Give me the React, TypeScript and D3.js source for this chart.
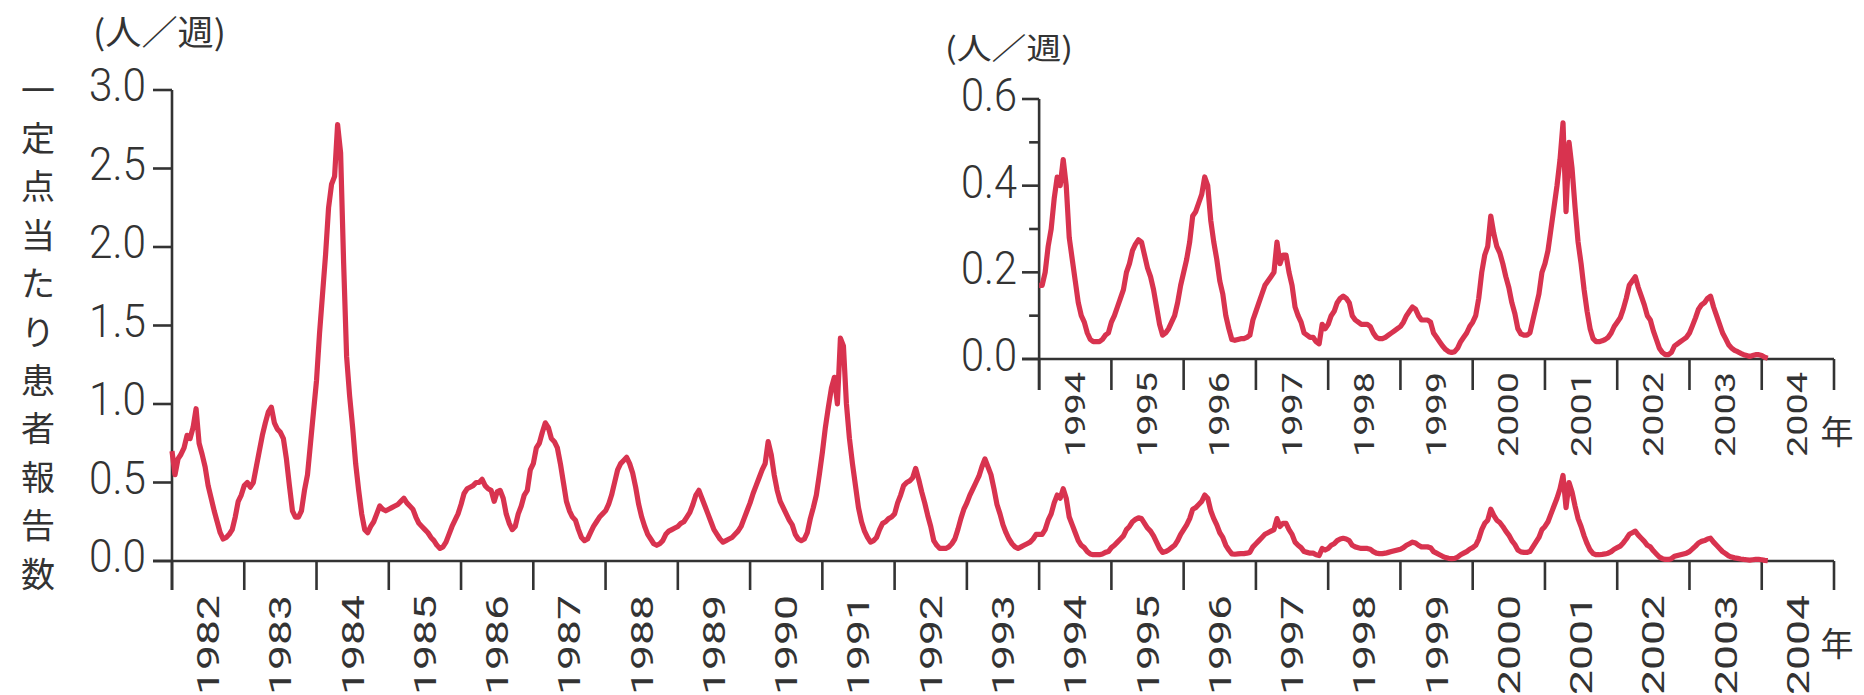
import React from 'react';
import * as d3 from 'd3';

// 定点当たり患者報告数 (人/週) at half-month steps (24 per year)
const ratesFrom1982 = [
  0.7, 0.55, 0.65, 0.68, 0.72, 0.8, 0.78, 0.85, 0.97, 0.75, 0.68, 0.6, 0.48, 0.4, 0.32, 0.25, 0.18, 0.14, 0.15, 0.17, 0.2, 0.28, 0.38, 0.42,
  0.48, 0.5, 0.47, 0.5, 0.6, 0.7, 0.8, 0.88, 0.95, 0.98, 0.88, 0.84, 0.82, 0.78, 0.65, 0.48, 0.32, 0.28, 0.28, 0.32, 0.45, 0.55, 0.75, 0.95,
  1.15, 1.45, 1.7, 1.95, 2.25, 2.4, 2.45, 2.78, 2.6, 1.9, 1.3, 1.05, 0.85, 0.62, 0.45, 0.3, 0.2, 0.18, 0.22, 0.25, 0.3, 0.35, 0.33, 0.32,
  0.33, 0.34, 0.35, 0.36, 0.38, 0.4, 0.37, 0.35, 0.33, 0.28, 0.24, 0.22, 0.2, 0.18, 0.15, 0.13, 0.1, 0.08, 0.09, 0.12, 0.17, 0.22, 0.26, 0.3,
  0.36, 0.43, 0.46, 0.47, 0.48, 0.5, 0.5, 0.52, 0.48, 0.46, 0.45, 0.38, 0.44, 0.45, 0.4, 0.3, 0.24, 0.2, 0.22, 0.3, 0.35, 0.42, 0.45, 0.58,
  0.62, 0.72, 0.75, 0.82, 0.88, 0.85, 0.78, 0.76, 0.72, 0.62, 0.5, 0.38, 0.32, 0.28, 0.26, 0.2, 0.15, 0.13, 0.14, 0.18, 0.22, 0.25, 0.28, 0.3,
];
const ratesFrom1988 = [
  0.32, 0.36, 0.42, 0.5, 0.58, 0.62, 0.64, 0.66, 0.62, 0.56, 0.47, 0.36, 0.28, 0.22, 0.17, 0.14, 0.11, 0.1, 0.11, 0.13, 0.17, 0.19, 0.2, 0.21,
  0.22, 0.24, 0.25, 0.28, 0.31, 0.36, 0.42, 0.45, 0.4, 0.35, 0.3, 0.25, 0.2, 0.17, 0.14, 0.12, 0.13, 0.14, 0.15, 0.17, 0.19, 0.22, 0.27, 0.32,
  0.37, 0.43, 0.48, 0.53, 0.58, 0.62, 0.76, 0.68, 0.55, 0.45, 0.38, 0.34, 0.3, 0.26, 0.23, 0.17, 0.14, 0.13, 0.14, 0.18, 0.27, 0.34, 0.42, 0.55,
  0.69, 0.85, 0.98, 1.1, 1.17, 1.0, 1.42, 1.37, 1.0, 0.78, 0.62, 0.48, 0.34, 0.25, 0.19, 0.15, 0.12, 0.13, 0.15, 0.2, 0.24, 0.25, 0.27, 0.28,
  0.3, 0.37, 0.42, 0.48, 0.5, 0.51, 0.53, 0.59, 0.52, 0.44, 0.37, 0.29, 0.22, 0.13, 0.1, 0.08, 0.08, 0.08, 0.09, 0.11, 0.14, 0.2, 0.27, 0.33,
  0.37, 0.42, 0.46, 0.5, 0.54, 0.6, 0.65, 0.6, 0.55, 0.46, 0.36, 0.3, 0.23, 0.18, 0.14, 0.11, 0.09, 0.08, 0.09, 0.1, 0.11, 0.12, 0.14, 0.17,
];
const ratesFrom1994 = [
  0.17, 0.17, 0.2, 0.26, 0.3, 0.37, 0.42, 0.4, 0.46, 0.4, 0.28, 0.23, 0.18, 0.13, 0.1, 0.085, 0.06, 0.045, 0.04, 0.04, 0.04, 0.045, 0.055, 0.06,
  0.085, 0.1, 0.12, 0.14, 0.16, 0.2, 0.22, 0.25, 0.265, 0.275, 0.27, 0.24, 0.21, 0.19, 0.16, 0.12, 0.08, 0.055, 0.06, 0.07, 0.085, 0.1, 0.13, 0.17,
  0.2, 0.23, 0.27, 0.33, 0.34, 0.36, 0.38, 0.42, 0.4, 0.32, 0.27, 0.23, 0.18, 0.15, 0.1, 0.07, 0.045, 0.043, 0.045, 0.047, 0.047, 0.05, 0.055, 0.09,
  0.11, 0.13, 0.15, 0.17, 0.18, 0.19, 0.2, 0.27, 0.22, 0.24, 0.24, 0.2, 0.17, 0.12, 0.1, 0.085, 0.06, 0.055, 0.05, 0.05, 0.04, 0.035, 0.08, 0.07,
  0.08, 0.1, 0.11, 0.13, 0.14, 0.145, 0.14, 0.13, 0.1, 0.09, 0.085, 0.08, 0.08, 0.08, 0.075, 0.06, 0.05, 0.047, 0.047, 0.05, 0.055, 0.06, 0.065, 0.07,
  0.075, 0.085, 0.1, 0.11, 0.12, 0.115, 0.1, 0.09, 0.09, 0.09, 0.085, 0.06, 0.05, 0.04, 0.03, 0.022, 0.017, 0.015, 0.017, 0.025, 0.04, 0.05, 0.06, 0.075,
];
const ratesFrom2000 = [
  0.085, 0.1, 0.14, 0.2, 0.24, 0.26, 0.33, 0.29, 0.26, 0.245, 0.22, 0.19, 0.165, 0.13, 0.105, 0.07, 0.058, 0.055, 0.055, 0.06, 0.09, 0.12, 0.15, 0.2,
  0.22, 0.25, 0.3, 0.35, 0.4, 0.46, 0.545, 0.34, 0.5, 0.44, 0.35, 0.27, 0.22, 0.16, 0.11, 0.07, 0.047, 0.04, 0.04, 0.042, 0.045, 0.05, 0.06, 0.075,
  0.085, 0.095, 0.115, 0.14, 0.17, 0.18, 0.19, 0.165, 0.145, 0.125, 0.1, 0.09, 0.065, 0.045, 0.025, 0.015, 0.01, 0.01, 0.015, 0.03, 0.035, 0.04, 0.045, 0.05,
  0.06, 0.077, 0.095, 0.115, 0.125, 0.13, 0.14, 0.145, 0.12, 0.1, 0.08, 0.06, 0.047, 0.033, 0.025, 0.02, 0.017, 0.013, 0.01, 0.008, 0.006, 0.008, 0.01, 0.01,
  0.008, 0.004, 0.002,
];
const blockStarts = [1982, 1988, 1994, 2000];
const stepsPerYear = 24;

const yearLabels = [
  1982, 1983, 1984, 1985, 1986, 1987, 1988, 1989, 1990, 1991, 1992, 1993,
  1994, 1995, 1996, 1997, 1998, 1999, 2000, 2001, 2002, 2003, 2004,
];
const insetFromYear = 1994;
const mainYTicks = [0, 0.5, 1.0, 1.5, 2.0, 2.5, 3.0];
const insetYTicks = [0, 0.2, 0.4, 0.6];
const insetMinorTicks = [0.1, 0.3, 0.5];
const axisTitle = '一定点当たり患者報告数';
const unitLabel = '(人／週)';
const yearUnit = '年';

const INK = '#333';
const RED = '#d8334f';
const DIGIT_FONT = 'Roboto, "Liberation Sans", sans-serif';
const CJK_FONT = '"Noto Sans CJK JP", sans-serif';

type Point = { t: number; v: number };

export default function App() {
  const series: Point[] = [ratesFrom1982, ratesFrom1988, ratesFrom1994, ratesFrom2000].flatMap((rates, b) =>
    rates.map((v, i) => ({ t: blockStarts[b] + i / stepsPerYear, v }))
  );
  const insetSeries = series.filter(d => d.t >= insetFromYear);

  const x = d3.scaleLinear().domain([1982, 2005]).range([172, 1834]);
  const yMain = d3.scaleLinear().domain([0, 3]).range([561, 90]);
  const yInset = d3.scaleLinear().domain([0, 0.6]).range([359, 99]);

  const mainLine = d3.line<Point>().x(d => x(d.t)).y(d => yMain(d.v));
  const insetLine = d3.line<Point>().x(d => x(d.t)).y(d => yInset(d.v));

  const lastEdge = yearLabels[yearLabels.length - 1] + 1;
  const mainEdges = [...yearLabels, lastEdge];
  const insetYears = yearLabels.filter(y => y >= insetFromYear);
  const insetEdges = [...insetYears, lastEdge];

  const x0 = x(yearLabels[0]);
  const xEnd = x(lastEdge);
  const xi0 = x(insetFromYear);

  const yearLabel = (yr: number, top: number, size: number, len: number, key: string) => (
    <text
      key={key}
      transform={`translate(${(x(yr) + x(yr + 1)) / 2},${top}) rotate(-90)`}
      textAnchor="end"
      dominantBaseline="central"
      fontSize={size}
      textLength={len}
      lengthAdjust="spacingAndGlyphs"
    >
      {yr}
    </text>
  );

  return (
    <svg width={1864} height={695} style={{ position: 'absolute', left: 0, top: 0, background: '#fff' }}>
      <g fill={INK} fontFamily={DIGIT_FONT}>
        {/* main chart */}
        <text x={93} y={30} fontFamily={CJK_FONT} fontSize={34} dominantBaseline="central" textLength={133} lengthAdjust="spacingAndGlyphs">
          {unitLabel}
        </text>
        {axisTitle.split('').map((ch, i) => (
          <text key={'t' + i} x={38} y={88 + i * 48.4} fontFamily={CJK_FONT} fontSize={34} textAnchor="middle" dominantBaseline="central">
            {ch}
          </text>
        ))}
        {mainYTicks.map(v => (
          <text key={'my' + v} x={146} y={yMain(v) - 5} fontSize={46} fontWeight={300} textAnchor="end" dominantBaseline="central" textLength={57} lengthAdjust="spacingAndGlyphs">
            {v.toFixed(1)}
          </text>
        ))}
        {yearLabels.map(yr => yearLabel(yr, 595, 32, 100, 'mx' + yr))}
        <text x={1837} y={642} fontFamily={CJK_FONT} fontSize={33} textAnchor="middle" dominantBaseline="central">{yearUnit}</text>

        {/* inset */}
        <text x={945} y={46} fontFamily={CJK_FONT} fontSize={30} dominantBaseline="central" textLength={128} lengthAdjust="spacingAndGlyphs">
          {unitLabel}
        </text>
        {insetYTicks.map(v => (
          <text key={'iy' + v} x={1017} y={yInset(v) - 4} fontSize={46} fontWeight={300} textAnchor="end" dominantBaseline="central" textLength={56} lengthAdjust="spacingAndGlyphs">
            {v.toFixed(1)}
          </text>
        ))}
        {insetYears.map(yr => yearLabel(yr, 372, 28, 85, 'ix' + yr))}
        <text x={1837} y={430} fontFamily={CJK_FONT} fontSize={33} textAnchor="middle" dominantBaseline="central">{yearUnit}</text>
      </g>

      <g stroke={INK} strokeWidth={2.6} fill="none">
        <line x1={x0} x2={x0} y1={yMain(3)} y2={590} />
        <line x1={153} x2={xEnd} y1={yMain(0)} y2={yMain(0)} />
        {mainYTicks.map(v => <line key={'mt' + v} x1={153} x2={x0} y1={yMain(v)} y2={yMain(v)} />)}
        {mainEdges.map(yr => <line key={'me' + yr} x1={x(yr)} x2={x(yr)} y1={yMain(0)} y2={590} />)}

        <line x1={xi0} x2={xi0} y1={yInset(0.6)} y2={390} />
        <line x1={1022} x2={xEnd} y1={yInset(0)} y2={yInset(0)} />
        {insetYTicks.map(v => <line key={'it' + v} x1={1022} x2={xi0} y1={yInset(v)} y2={yInset(v)} />)}
        {insetMinorTicks.map(v => <line key={'im' + v} x1={xi0 - 10} x2={xi0} y1={yInset(v)} y2={yInset(v)} />)}
        {insetEdges.map(yr => <line key={'ie' + yr} x1={x(yr)} x2={x(yr)} y1={yInset(0)} y2={390} />)}
      </g>

      <path d={mainLine(series) ?? ''} fill="none" stroke={RED} strokeWidth={5.2} strokeLinejoin="round" />
      <path d={insetLine(insetSeries) ?? ''} fill="none" stroke={RED} strokeWidth={5.2} strokeLinejoin="round" />
    </svg>
  );
}
